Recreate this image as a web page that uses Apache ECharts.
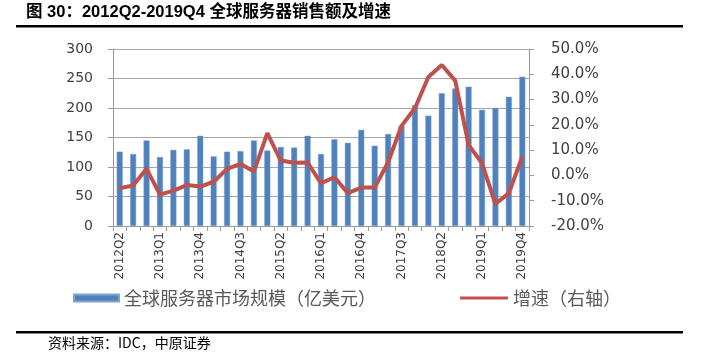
<!DOCTYPE html>
<html>
<head>
<meta charset="utf-8">
<script src="https://cdn.jsdelivr.net/npm/echarts@6/dist/echarts.min.js"></script>
<style>
html,body{margin:0;padding:0;background:#fff;}
#c{width:707px;height:359px;}
</style>
</head>
<body>
<div id="c"></div>
<script>
var categories = ['2012Q2','2012Q3','2012Q4','2013Q1','2013Q2','2013Q3','2013Q4','2014Q1','2014Q2','2014Q3','2014Q4','2015Q1','2015Q2','2015Q3','2015Q4','2016Q1','2016Q2','2016Q3','2016Q4','2017Q1','2017Q2','2017Q3','2017Q4','2018Q1','2018Q2','2018Q3','2018Q4','2019Q1','2019Q2','2019Q3','2019Q4'];
var sales = [126,122,145,117,129,130,153,118,126,127,145,128,134,133,153,122,147,141,163,136,156,170,205,187,225,233,236,197,200,219,253];
var growth = [-5.1,-4.0,2.6,-7.6,-6.0,-3.8,-4.4,-2.5,2.6,4.6,1.5,16.7,5.9,5.0,5.1,-3.1,-0.7,-7.0,-4.8,-4.8,5.2,19.6,26.6,38.9,43.7,37.5,12.1,4.8,-11.3,-7.0,7.5];
var leftTicks = {min:0, max:300, interval:50};
var rightTicks = {min:-20, max:50, interval:10};
var salesName = '全球服务器市场规模（亿美元）';
var growthName = '增速（右轴）';
var titleText = '图 30：2012Q2-2019Q4 全球服务器销售额及增速';
var sourceText = '资料来源：IDC，中原证券';

var chart = echarts.init(document.getElementById('c'));
var axisGray = '#9a9a9a';
var labelColor = '#404040';
var fam = 'DejaVu Sans, Noto Sans CJK SC, sans-serif';
chart.setOption({
  backgroundColor:'#fff',
  animation:false,
  grid:{left:113, right:178, top:49, bottom:133, containLabel:false},
  graphic:[
    {type:'text', left:26, top:4, style:{text:titleText, font:'bold 16.5px "Liberation Sans", "Noto Sans CJK SC", sans-serif', fill:'#000'}},
    {type:'rect', shape:{x:16, y:25, width:667, height:2.5}, style:{fill:'#000'}},
    {type:'rect', shape:{x:16, y:331, width:667, height:2.5}, style:{fill:'#000'}},
    {type:'text', left:48, top:336, style:{text:sourceText, font:'14px "Noto Sans CJK SC", sans-serif', fill:'#000'}}
  ],
  legend:[
    {data:[salesName], left:68, top:284, itemWidth:45, itemHeight:7, icon:'rect', itemGap:8,
     textStyle:{fontSize:18, color:'#595959', fontFamily:'Noto Sans CJK SC'}},
    {data:[growthName], left:455, top:284, itemWidth:48, itemHeight:3, icon:'rect', itemGap:4,
     textStyle:{fontSize:18, color:'#595959', fontFamily:'Noto Sans CJK SC'}}
  ],
  xAxis:{
    type:'category', data:categories, boundaryGap:true,
    axisLine:{lineStyle:{color:axisGray}},
    axisTick:{show:true, interval:0, length:5, lineStyle:{color:axisGray}},
    axisLabel:{interval:2, rotate:90, fontSize:12, color:labelColor, fontFamily:fam, margin:6}
  },
  yAxis:[
    {type:'value', min:leftTicks.min, max:leftTicks.max, interval:leftTicks.interval, position:'left',
     axisLine:{show:true, lineStyle:{color:axisGray}},
     axisTick:{show:true, length:5, lineStyle:{color:axisGray}},
     axisLabel:{fontSize:14, color:labelColor, fontFamily:fam, margin:20},
     splitLine:{show:true, lineStyle:{color:'#a6a6a6', width:1}}},
    {type:'value', min:rightTicks.min, max:rightTicks.max, interval:rightTicks.interval, position:'right',
     axisLine:{show:true, lineStyle:{color:axisGray}},
     axisTick:{show:true, length:5, lineStyle:{color:axisGray}},
     axisLabel:{fontSize:15, color:labelColor, fontFamily:fam, margin:22,
       formatter:function(v){return v.toFixed(1)+'%';}},
     splitLine:{show:false}}
  ],
  series:[
    {name:salesName, type:'bar', data:sales, yAxisIndex:0, barWidth:6,
     itemStyle:{color:'#4F81BD', borderColor:'#7FA3D1', borderWidth:0.5}},
    {name:growthName, type:'line', data:growth, yAxisIndex:1, symbol:'none', smooth:false,
     lineStyle:{color:'#C0504D', width:4}, itemStyle:{color:'#C0504D'}}
  ]
});
</script>
</body>
</html>
